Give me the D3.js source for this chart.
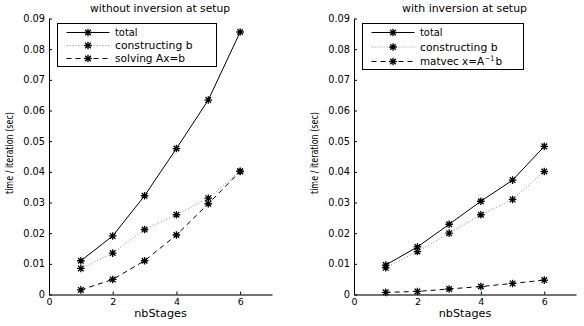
<!DOCTYPE html>
<html>
<head>
<meta charset="utf-8">
<script src="https://cdn.jsdelivr.net/npm/d3@7"></script>
<style>
  body { margin: 0; background: #fff; }
  text { font-family: "DejaVu Sans", "Liberation Sans", Arial, sans-serif; fill: #000; }
</style>
</head>
<body>
<svg id="chart" width="584" height="326"></svg>
<script>
// nbStages on the x axis
const stages = [1, 2, 3, 4, 5, 6];

// left panel: without inversion at setup
const leftTotal = [0.0110, 0.0191, 0.0322, 0.0476, 0.0634, 0.0856];
const leftConstruct = [0.0085, 0.0135, 0.0212, 0.0260, 0.0314, 0.0402];
const leftSolve = [0.0015, 0.0049, 0.0110, 0.0194, 0.0296, 0.0401];

// right panel: with inversion at setup
const rightTotal = [0.0096, 0.0155, 0.0229, 0.0304, 0.0373, 0.0483];
const rightConstruct = [0.0087, 0.0140, 0.0200, 0.0260, 0.0310, 0.0401];
const rightMatvec = [0.0007, 0.0010, 0.0018, 0.0026, 0.0036, 0.0047];

const xTicks = [0, 2, 4, 6];
const yTicks = [0, 0.01, 0.02, 0.03, 0.04, 0.05, 0.06, 0.07, 0.08, 0.09];

const panels = [
  {
    title: 'without inversion at setup', titleW: 140,
    left: 49, right: 272,
    legendW: 159, legendH: 43,
    series: [
      {name: 'total', values: leftTotal, style: 'solid', w: 22.5},
      {name: 'constructing b', values: leftConstruct, style: 'dotted', w: 77.5},
      {name: 'solving Ax=b', values: leftSolve, style: 'dashed', w: 70}
    ]
  },
  {
    title: 'with inversion at setup', titleW: 125,
    left: 354, right: 576,
    legendW: 161, legendH: 46,
    series: [
      {name: 'total', values: rightTotal, style: 'solid', w: 22.5},
      {name: 'constructing b', values: rightConstruct, style: 'dotted', w: 77.5},
      {name: 'matvec x=A', values: rightMatvec, style: 'dashed', w: 64, sup: '−1', after: 'b'}
    ]
  }
];

const svg = d3.select('#chart');
const plotTop = 18.5, plotBottom = 294.5;

function lineStyle(sel, style) {
  if (style === 'dotted') {
    sel.attr('stroke', '#888').attr('stroke-width', 1).attr('stroke-dasharray', '1,2');
  } else if (style === 'dashed') {
    sel.attr('stroke', '#000').attr('stroke-width', 1).attr('stroke-dasharray', '5,4');
  } else {
    sel.attr('stroke', '#000').attr('stroke-width', 1);
  }
  return sel;
}

// asterisk marker drawn as 4 crossing strokes
function star(g, x, y) {
  const r = 3.8, d = 2.8;
  const p = `M${x - r},${y}L${x + r},${y}M${x},${y - r}L${x},${y + r}` +
    `M${x - d},${y - d}L${x + d},${y + d}M${x - d},${y + d}L${x + d},${y - d}`;
  g.append('path').attr('d', p).attr('stroke', '#000').attr('stroke-width', 1.3).attr('fill', 'none');
}

panels.forEach(p => {
  const xScale = d3.scaleLinear().domain([0, 7]).range([p.left, p.right]);
  const yScale = d3.scaleLinear().domain([0, 0.09]).range([plotBottom, plotTop]);

  const g = svg.append('g');

  // axes: MATLAB style, ticks pointing inward
  const xAxis = d3.axisBottom(xScale).tickValues(xTicks).tickSize(-3).tickSizeOuter(0).tickPadding(4)
      .tickFormat(d3.format('d'));
  const yAxis = d3.axisLeft(yScale).tickValues(yTicks).tickSize(-3).tickSizeOuter(0).tickPadding(4)
      .tickFormat(d => d === 0 ? '0' : d3.format('.2f')(d));

  const xG = g.append('g').attr('transform', `translate(0,${plotBottom})`).call(xAxis);
  const yG = g.append('g').attr('transform', `translate(${p.left},0)`).call(yAxis);
  [xG, yG].forEach(a => {
    a.select('.domain').attr('stroke', '#000');
    a.selectAll('.tick line').attr('stroke', '#000');
    a.selectAll('.tick text').attr('font-size', 9.8).attr('font-family', '"DejaVu Sans", sans-serif').attr('fill', '#000');
  });
  xG.selectAll('.tick text').attr('font-size', 9.5);
  xG.select('.domain').attr('stroke', '#444').attr('stroke-width', 1.5);

  const cx = (p.left + p.right) / 2;
  g.append('text').attr('x', cx - 0.5).attr('y', 12)
      .attr('text-anchor', 'middle').attr('font-size', 10)
      .attr('textLength', p.titleW).attr('lengthAdjust', 'spacingAndGlyphs').text(p.title);
  g.append('text').attr('x', cx).attr('y', 316.5)
      .attr('text-anchor', 'middle').attr('font-size', 10)
      .attr('textLength', 52.5).attr('lengthAdjust', 'spacingAndGlyphs').text('nbStages');
  g.append('text')
      .attr('transform', `translate(${p.left - 36},153) rotate(-90)`)
      .attr('text-anchor', 'middle').attr('font-size', 10)
      .attr('textLength', 82).attr('lengthAdjust', 'spacingAndGlyphs')
      .text('time / iteration (sec)');

  // series lines and markers
  const line = d3.line().x((d, i) => xScale(stages[i])).y(d => yScale(d));
  p.series.forEach(s => {
    lineStyle(g.append('path').datum(s.values).attr('fill', 'none').attr('d', line), s.style);
  });
  p.series.forEach(s => {
    s.values.forEach((v, i) => star(g, xScale(stages[i]), yScale(v)));
  });

  // legend
  const lx = p.left + 8.5, ly = 23.5;
  const leg = g.append('g');
  leg.append('rect').attr('x', lx).attr('y', ly).attr('width', p.legendW).attr('height', p.legendH)
      .attr('fill', '#fff').attr('stroke', '#000').attr('stroke-width', 1);
  const rowGap = p.legendH > 44 ? 14.5 : 13;
  p.series.forEach((s, i) => {
    const ry = ly + 9 + i * rowGap;
    lineStyle(leg.append('line').attr('x1', lx + 9).attr('x2', lx + 52).attr('y1', ry).attr('y2', ry), s.style);
    star(leg, lx + 30.5, ry);
    const tx = lx + 57.5;
    leg.append('text').attr('x', tx).attr('y', ry + 3.8).attr('font-size', 10.5)
        .attr('textLength', s.w).attr('lengthAdjust', 'spacingAndGlyphs').text(s.name);
    if (s.sup) {
      leg.append('text').attr('x', tx + s.w + 0.8).attr('y', ry - 1).attr('font-size', 7.5)
          .attr('textLength', 9.5).attr('lengthAdjust', 'spacingAndGlyphs').text(s.sup);
      leg.append('text').attr('x', tx + s.w + 11.5).attr('y', ry + 3.8).attr('font-size', 10.5).text(s.after);
    }
  });
});
</script>
</body>
</html>
